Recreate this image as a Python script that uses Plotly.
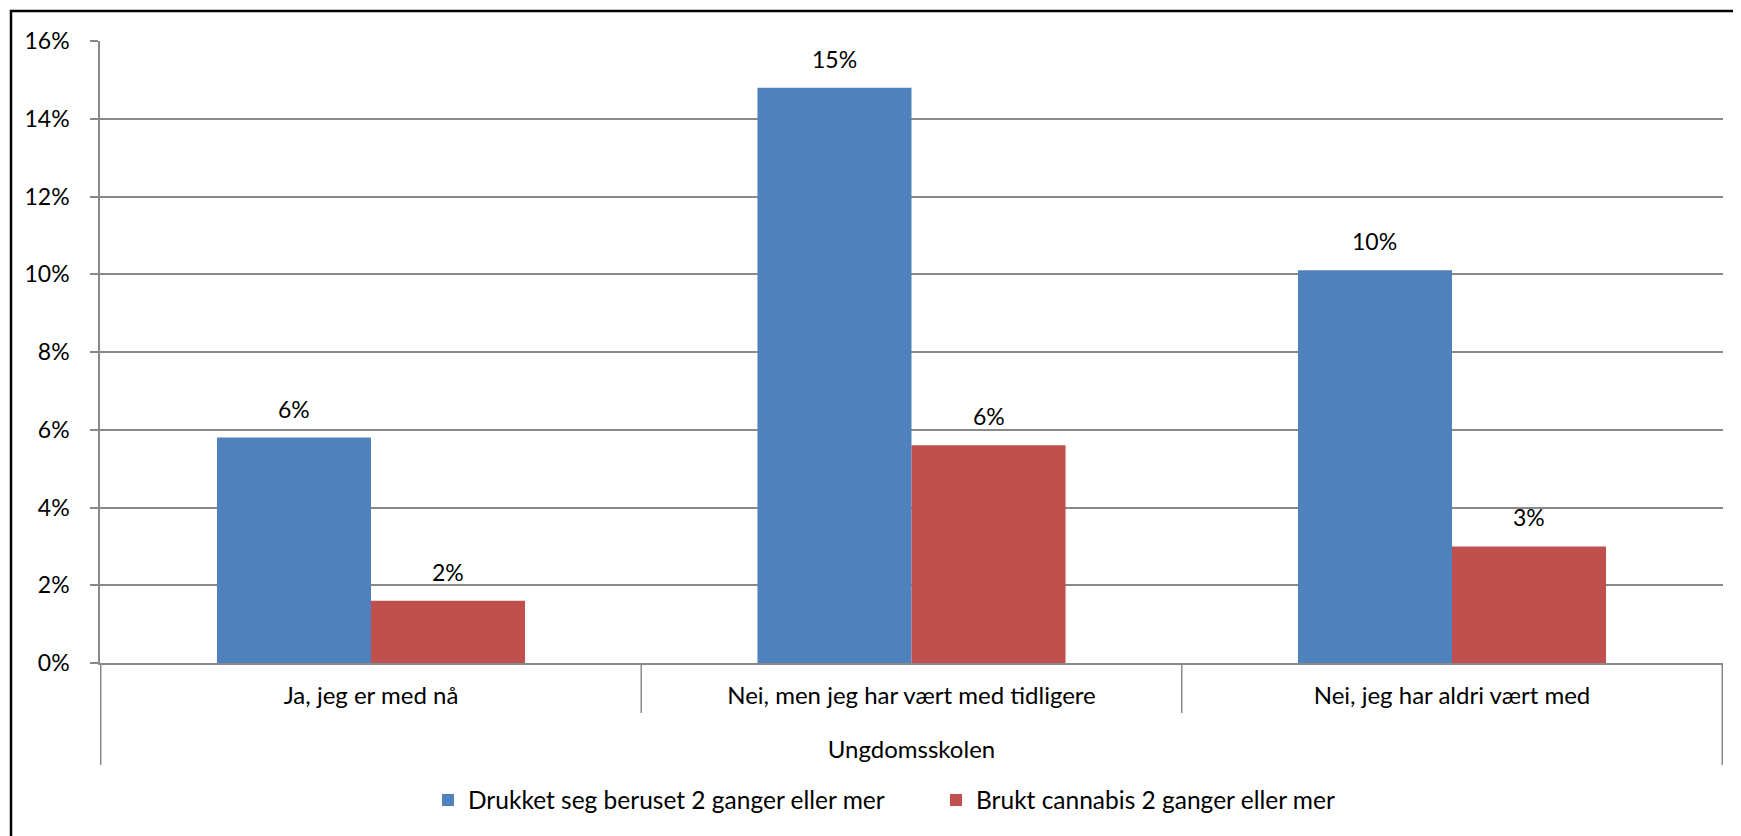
import plotly.graph_objects as go

categories = ["Ja, jeg er med nå", "Nei, men jeg har vært med tidligere", "Nei, jeg har aldri vært med"]
group_title = "Ungdomsskolen"
series_names = ["Drukket seg beruset 2 ganger eller mer", "Brukt cannabis 2 ganger eller mer"]
drukket = [0.058, 0.148, 0.101]
cannabis = [0.016, 0.056, 0.030]
y_ticks = [0, 0.02, 0.04, 0.06, 0.08, 0.10, 0.12, 0.14, 0.16]

colors = ["#4F81BD", "#C0504D"]
FONT = "Lato, Carlito, Calibri, sans-serif"
GRID = "#898989"
W, H = 1741, 836
# page has an 8px body margin; margins compensate so the plot area lands where the reference has it
ML, MR, MT, MB = 92, 26, 33, 181
PW = W - ML - MR
PH = H - MT - MB
bargap = 0.43

fig = go.Figure()
for name, vals, col in zip(series_names, [drukket, cannabis], colors):
    fig.add_trace(go.Bar(x=categories, y=vals, name=name, marker_color=col,
                         marker_line_width=0))

annotations = []
half = (1 - bargap) / 4
for si, vals in enumerate([drukket, cannabis]):
    off = -half if si == 0 else half
    for i, v in enumerate(vals):
        annotations.append(dict(x=i + off, y=v, xref="x", yref="y", text=f"{v:.0%}",
                                showarrow=False, yanchor="middle", yshift=29,
                                font=dict(family=FONT, size=23, color="black")))

shapes = []
n = len(categories)
for i in range(n + 1):
    edge = (i == 0 or i == n)
    shapes.append(dict(type="line", xref="x", yref="paper", x0=i - 0.5, x1=i - 0.5,
                       y0=0, y1=-(102 if edge else 50) / PH,
                       line=dict(color=GRID, width=1.5)))
# outer chart border
shapes.append(dict(type="rect", xref="paper", yref="paper",
                   x0=-(ML - 3) / PW, x1=1.05,
                   y0=-0.4, y1=1 + (MT - 3) / PH,
                   line=dict(color="black", width=2.5), fillcolor="rgba(0,0,0,0)"))

fig.update_layout(
    width=W, height=H,
    margin=dict(l=ML, r=MR, t=MT, b=MB, autoexpand=False),
    paper_bgcolor="white", plot_bgcolor="white",
    barmode="group", bargap=bargap, bargroupgap=0,
    font=dict(family=FONT, size=23, color="black"),
    showlegend=True,
    legend=dict(orientation="h", x=(420 - ML) / PW, xanchor="left", y=-(137) / PH,
                yanchor="middle", font=dict(family=FONT, size=24.5, color="black"),
                entrywidth=463, entrywidthmode="pixels",
                bgcolor="rgba(0,0,0,0)"),
    annotations=annotations,
    shapes=shapes,
)
fig.update_yaxes(range=[0, 0.16], tickvals=y_ticks, tickformat=".0%",
                 showgrid=True, gridcolor=GRID, gridwidth=1.5, zeroline=False,
                 showline=True, linecolor=GRID, linewidth=1.5,
                 ticks="outside", ticklen=8, tickcolor=GRID, tickwidth=1.5,
                 ticklabelstandoff=16, tickfont=dict(size=23))
fig.update_xaxes(showline=True, linecolor=GRID, linewidth=1.5, ticks="",
                 tickfont=dict(size=24), ticklabelstandoff=10,
                 title=dict(text=group_title, standoff=34, font=dict(size=24)))

fig.write_html("out.html")
